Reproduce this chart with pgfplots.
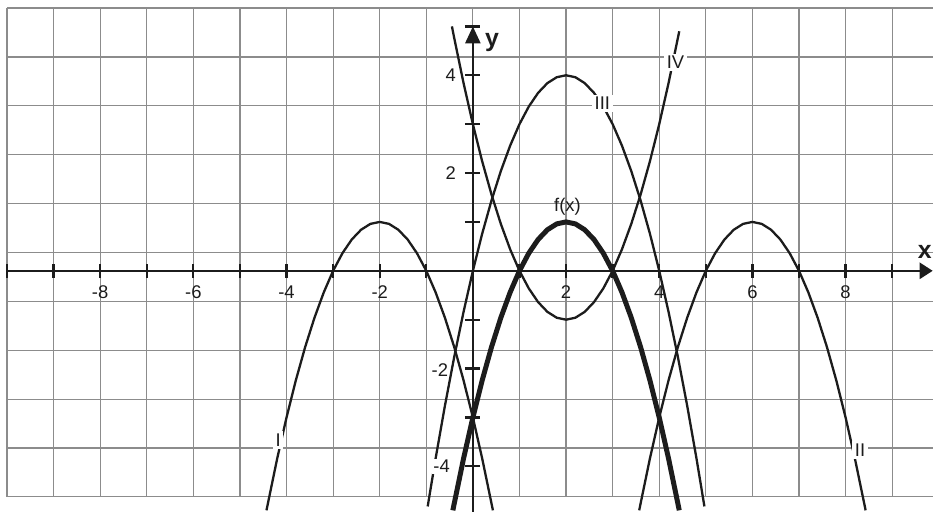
\documentclass[border=0pt]{standalone}
\usepackage{fontspec}
\setmainfont{Liberation Sans}
\usepackage{pgfplots}
\pgfplotsset{compat=1.18}
\usetikzlibrary{arrows.meta}
\definecolor{gridgray}{RGB}{140,140,140}
\definecolor{ink}{RGB}{28,28,28}
\tikzset{curve/.style={ink, line width=2.3bp, line join=round, line cap=butt, mark=none}}
\begin{document}
\begin{tikzpicture}
\begin{axis}[
  x=46.7bp, y=49bp,
  xmin=-10, xmax=9.87, ymin=-4.625, ymax=5.375,
  axis line style={draw=none},
  xtick={-10,-9,...,9},
  ytick={-4.625,-3.625,-2.625,-1.625,-0.625,0.375,1.375,2.375,3.375,4.375,5.375},
  xticklabels={}, yticklabels={},
  major tick length=0pt, tick style={draw=none},
  grid=major,
  major grid style={gridgray, line width=1.2bp},
  clip=false,
  font=\fontsize{18.5}{22}\selectfont,
]
\path (axis cs:-10.15,-4.93) rectangle (axis cs:9.87,5.54);

% I
\addplot[curve] coordinates {(-4.43,-4.90) (-4.4,-4.76) (-4.2,-3.84) (-4.0,-3) (-3.8,-2.24) (-3.6,-1.56) (-3.4,-0.96) (-3.2,-0.44) (-3.0,0) (-2.8,0.36) (-2.6,0.64) (-2.4,0.84) (-2.2,0.96) (-2.0,1) (-1.8,0.96) (-1.6,0.84) (-1.4,0.64) (-1.2,0.36) (-1.0,0) (-0.8,-0.44) (-0.6,-0.96) (-0.4,-1.56) (-0.2,-2.24) (0,-3) (0.2,-3.84) (0.4,-4.76) (0.43,-4.90)};
% II
\addplot[curve] coordinates {(3.57,-4.90) (3.6,-4.76) (3.8,-3.84) (4.0,-3) (4.2,-2.24) (4.4,-1.56) (4.6,-0.96) (4.8,-0.44) (5.0,0) (5.2,0.36) (5.4,0.64) (5.6,0.84) (5.8,0.96) (6.0,1) (6.2,0.96) (6.4,0.84) (6.6,0.64) (6.8,0.36) (7.0,0) (7.2,-0.44) (7.4,-0.96) (7.6,-1.56) (7.8,-2.24) (8.0,-3) (8.2,-3.84) (8.4,-4.76) (8.43,-4.90)};
% III
\addplot[curve] coordinates {(-0.97,-4.82) (-0.8,-3.84) (-0.6,-2.76) (-0.4,-1.76) (-0.2,-0.84) (0,0) (0.2,0.76) (0.4,1.44) (0.6,2.04) (0.8,2.56) (1.0,3) (1.2,3.36) (1.4,3.64) (1.6,3.84) (1.8,3.96) (2.0,4) (2.2,3.96) (2.4,3.84) (2.6,3.64) (2.8,3.36) (3.0,3) (3.2,2.56) (3.4,2.04) (3.6,1.44) (3.8,0.76) (4.0,0) (4.2,-0.84) (4.4,-1.76) (4.6,-2.76) (4.8,-3.84) (4.97,-4.82)};
% IV
\addplot[curve] coordinates {(-0.45,5.0) (-0.4,4.76) (-0.2,3.84) (0,3) (0.2,2.24) (0.4,1.56) (0.6,0.96) (0.8,0.44) (1.0,0) (1.2,-0.36) (1.4,-0.64) (1.6,-0.84) (1.8,-0.96) (2.0,-1) (2.2,-0.96) (2.4,-0.84) (2.6,-0.64) (2.8,-0.36) (3.0,0) (3.2,0.44) (3.4,0.96) (3.6,1.56) (3.8,2.24) (4.0,3) (4.2,3.84) (4.43,4.90)};
% f(x)
\addplot[curve, line width=5bp] coordinates {(-0.43,-4.90) (-0.4,-4.76) (-0.2,-3.84) (0,-3) (0.2,-2.24) (0.4,-1.56) (0.6,-0.96) (0.8,-0.44) (1.0,0) (1.2,0.36) (1.4,0.64) (1.6,0.84) (1.8,0.96) (2.0,1) (2.2,0.96) (2.4,0.84) (2.6,0.64) (2.8,0.36) (3.0,0) (3.2,-0.44) (3.4,-0.96) (3.6,-1.56) (3.8,-2.24) (4.0,-3) (4.2,-3.84) (4.4,-4.76) (4.43,-4.90)};

% axes
\draw[ink, line width=2.6bp, -{Triangle[length=13bp,width=16bp]}] (axis cs:-10,0) -- (axis cs:9.87,0);
\draw[ink, line width=2.6bp, -{Triangle[length=17bp,width=15bp]}] (axis cs:0,-4.93) -- (axis cs:0,5);
\pgfplotsinvokeforeach{-10,-9,...,9}{\draw[ink, line width=2.3bp] ([yshift=-7bp]axis cs:#1,0) -- ([yshift=7bp]axis cs:#1,0);}
\pgfplotsinvokeforeach{-4,-3,...,5}{\draw[ink, line width=2.3bp] ([xshift=-8bp]axis cs:0,#1) -- ([xshift=7bp]axis cs:0,#1);}

% tick labels
\pgfplotsinvokeforeach{-8,-6,-4,-2,2,4,6,8}{\node[ink, anchor=base, inner sep=0pt] at (axis cs:#1,-0.56) {#1};}
\node[ink, anchor=east, inner sep=0pt] at (axis cs:-0.36,4) {4};
\node[ink, anchor=east, inner sep=0pt] at (axis cs:-0.36,2) {2};
\node[ink, anchor=east, inner sep=0pt] at (axis cs:-0.53,-2.03) {-2};
\node[ink, anchor=east, inner sep=1bp, fill=white] at (axis cs:-0.47,-4) {-4};

% axis names
\node[ink, font=\fontsize{25}{28}\selectfont\bfseries] at (axis cs:9.70,0.38) {x};
\node[ink, font=\fontsize{25}{28}\selectfont\bfseries] at (axis cs:0.41,4.66) {y};

% curve labels
\node[ink, fill=white, inner sep=2.5bp] at (axis cs:-4.18,-3.46) {I};
\node[ink, fill=white, inner sep=2.5bp] at (axis cs:8.31,-3.66) {II};
\node[ink, fill=white, inner sep=2.5bp] at (axis cs:2.78,3.42) {III};
\node[ink, fill=white, inner sep=2.5bp] at (axis cs:4.35,4.26) {IV};
\node[ink, inner sep=0pt] at (axis cs:2.03,1.32) {f(x)};
\end{axis}
\end{tikzpicture}
\end{document}
